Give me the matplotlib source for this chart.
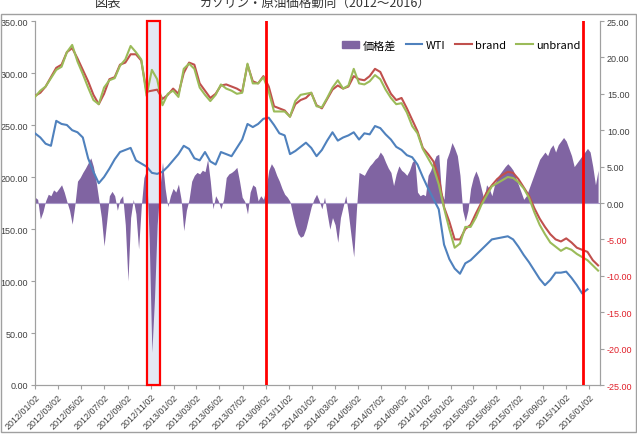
import matplotlib
matplotlib.use("Agg")
import matplotlib.pyplot as plt
import matplotlib.dates as mdates
from matplotlib.patches import Rectangle
import numpy as np
import pandas as pd

plt.rcParams['font.family'] = ['Noto Sans CJK JP', 'DejaVu Sans']

# ---------------- data ----------------
start_date = "2012-01-02"
# biweekly series (left axis)
brand = [278, 281, 287, 296, 305, 308, 320, 324, 314, 303, 292, 279, 270, 280, 294, 296, 308, 310, 318, 318,
         312, 282, 283, 284, 275, 279, 285, 280, 300, 310, 308, 290, 283, 276, 280, 288, 289, 287, 285, 282,
         308, 292, 290, 297, 287, 268, 266, 264, 258, 270, 274, 276, 281, 269, 266, 275, 284, 288, 285, 287,
         297, 294, 293, 297, 304, 301, 290, 280, 274, 276, 266, 255, 244, 228, 222, 215, 200, 171, 157, 140,
         140, 150, 154, 165, 175, 185, 192, 198, 202, 205, 204, 198, 190, 182, 170, 160, 152, 145, 140, 138,
         141, 137, 132, 130, 128, 120, 115]
unbrand = [277, 283, 287, 295, 303, 306, 320, 327, 311, 299, 286, 274, 270, 286, 293, 295, 307, 313, 326, 320,
           313, 278, 303, 294, 269, 280, 283, 277, 304, 309, 304, 286, 279, 273, 279, 289, 285, 283, 280, 281,
           309, 290, 290, 296, 282, 263, 263, 263, 258, 273, 279, 280, 281, 268, 267, 276, 286, 293, 285, 288,
           304, 290, 289, 292, 298, 294, 284, 276, 270, 271, 262, 249, 242, 227, 218, 209, 193, 170, 150, 132,
           136, 152, 152, 161, 173, 182, 191, 194, 197, 200, 199, 195, 189, 180, 166, 154, 145, 137, 133, 129,
           132, 130, 126, 123, 120, 115, 110]
wti = [242, 238, 232, 230, 254, 251, 250, 245, 243, 238, 218, 205, 194, 200, 208, 217, 224, 226, 228, 216,
       213, 210, 204, 203, 205, 210, 216, 222, 230, 227, 218, 216, 224, 215, 212, 224, 222, 220, 228, 236,
       251, 248, 251, 256, 257, 250, 242, 240, 222, 225, 229, 233, 228, 220, 226, 235, 243, 235, 238, 240,
       243, 236, 242, 241, 249, 247, 241, 236, 229, 226, 221, 219, 212, 200, 189, 179, 169, 135, 121, 112,
       107, 117, 120, 125, 130, 135, 140, 141, 142, 143, 140, 133, 125, 118, 110, 102, 96, 101, 108, 108,
       109, 103, 96, 88, 92]
# weekly price gap (right axis)
gap = [0.8, 0.5, -2.2, -1.2, 0.3, 1.2, 1.0, 1.8, 1.5, 2.0, 2.5, 1.5, 0.2, -1.0, -2.9, -0.3, 3.0, 3.5, 4.2, 4.8,
       5.5, 6.2, 5.0, 3.0, 0.5, -2.0, -5.9, -2.5, 1.0, 1.6, 1.0, -1.0, 0.5, 1.0, -3.0, -10.7, -2.0, 0.5, -1.5, -6.3,
       -0.5, 3.5, 4.5, -5.0, -20.5, -13.0, -3.0, 2.0, 5.6, 2.0, -0.5, 1.0, 2.0, 1.5, 2.6, 0.5, -3.8, -1.0, 0.5, 3.0,
       3.8, 4.2, 4.0, 4.5, 4.3, 6.0, 3.0, -0.8, 1.0, 0.3, -0.8, 0.5, 3.5, 4.0, 4.2, 4.5, 4.9, 3.0, 0.8, 0.2,
       -1.5, 1.5, 2.5, 2.2, 0.3, 1.0, 0.5, 2.0, 4.5, 5.4, 4.8, 3.8, 3.0, 2.0, 1.2, 0.8, 0.2, -1.5, -3.0, -4.2,
       -4.7, -4.5, -3.5, -2.0, -0.5, 0.5, 1.2, 0.3, -0.8, 0.8, -1.5, -3.6, -2.0, -3.0, -5.4, -2.0, -0.5, 1.0, -1.5, -4.5,
       -7.4, -1.0, 4.2, 4.0, 3.8, 4.5, 5.1, 5.5, 6.0, 6.3, 7.0, 6.5, 5.6, 4.8, 4.2, 2.4, 4.0, 5.1, 4.5, 4.2,
       3.8, 4.5, 5.6, 6.0, 1.5, 1.0, 1.2, 1.0, 3.8, 4.5, 5.6, 6.5, 6.7, 1.5, 0.5, 6.0, 7.0, 8.3, 7.5, 6.5,
       3.8, -1.0, -2.5, -1.0, 2.0, 3.5, 4.4, 3.5, 2.0, 0.5, 2.5, 2.0, 1.0, 2.5, 3.5, 4.0, 4.5, 5.0, 5.4, 5.0,
       4.5, 3.5, 2.5, 1.5, 0.5, 1.0, 2.0, 3.0, 4.0, 5.0, 6.0, 6.5, 7.0, 6.5, 7.5, 8.0, 7.0, 8.0, 8.5, 9.0,
       8.5, 7.5, 6.5, 5.0, 5.5, 6.0, 6.5, 7.0, 7.5, 7.0, 5.0, 2.5, 4.5]

tick_labels = ["2012/01/02", "2012/03/02", "2012/05/02", "2012/07/02", "2012/09/02", "2012/11/02",
               "2013/01/02", "2013/03/02", "2013/05/02", "2013/07/02", "2013/09/02", "2013/11/02",
               "2014/01/02", "2014/03/02", "2014/05/02", "2014/07/02", "2014/09/02", "2014/11/02",
               "2015/01/02", "2015/03/02", "2015/05/02", "2015/07/02", "2015/09/02", "2015/11/02",
               "2016/01/02"]
marker_lines = ["2013-09-02", "2015-12-17"]
highlight = ("2012-10-22", "2012-11-26")
legend_labels = ["価格差", "WTI", "brand", "unbrand"]
title_left = "図表"
title_right = "ガソリン・原油価格動向（2012～2016）"

# ---------------- plot ----------------
d2 = pd.date_range(start_date, periods=len(brand), freq="14D")
d_wti = d2[:len(wti)]
d1 = pd.date_range(start_date, periods=len(gap), freq="7D")

c_gap = "#8064A2"
c_wti = "#4F81BD"
c_brand = "#C0504D"
c_unbrand = "#9BBB59"
tick_font = "Liberation Sans"

fig = plt.figure(figsize=(6.37, 4.39), dpi=100)
ax = fig.add_axes([35/637, 1-386/439, 565/637, 364/439])
ax2 = ax.twinx()
ax.set_zorder(ax2.get_zorder() + 1)
ax.patch.set_visible(False)

# highlighted span fill (behind area)
h0, h1 = pd.Timestamp(highlight[0]), pd.Timestamp(highlight[1])
ax2.axvspan(h0, h1, facecolor="#E4E8F4", edgecolor="none", zorder=0)

gap_arr = np.array(gap)
ax2.fill_between(d1, 0, gap_arr, color=c_gap, linewidth=0, zorder=2)
ax2.axhline(0, color="#A898C8", lw=0.8, zorder=2)
ax2.set_ylim(-25, 25)
rt = np.arange(-25, 26, 5)
ax2.set_yticks(rt)
ax2.set_yticklabels([f"{v:.2f}" for v in rt], fontfamily=tick_font)

ax.plot(d_wti, wti, color=c_wti, lw=1.5, zorder=3)
ax.plot(d2, brand, color=c_brand, lw=1.5, zorder=3)
ax.plot(d2, unbrand, color=c_unbrand, lw=1.5, zorder=4)

ax.set_ylim(0, 350)
lt = np.arange(0, 351, 50)
ax.set_yticks(lt)
ax.set_yticklabels([f"{v:.2f}" for v in lt], fontfamily=tick_font)

ax.set_xlim(pd.Timestamp(start_date), pd.Timestamp("2016-01-30"))
ticks = [pd.Timestamp(t.replace("/", "-")) for t in tick_labels]
ax.set_xticks(ticks)
ax.set_xticklabels(tick_labels, rotation=45, ha="right", rotation_mode="anchor", fontfamily=tick_font)

for m in marker_lines:
    ax.axvline(pd.Timestamp(m), color="#FF0000", lw=2, zorder=6)
ax.add_patch(Rectangle((mdates.date2num(h0), 0), mdates.date2num(h1) - mdates.date2num(h0), 350,
                       facecolor="none", edgecolor="#FF0000", lw=1.6, zorder=6, clip_on=False))

for a in (ax, ax2):
    a.spines["top"].set_visible(False)
    for s in ("left", "right", "bottom"):
        a.spines[s].set_color("#A0A0A0")
    a.tick_params(labelsize=6.5, colors="#A0A0A0", labelcolor="#404040", length=3, width=0.8, pad=2)
for lab, v in zip(ax2.get_yticklabels(), rt):
    lab.set_color("#E0202A" if v < 0 else "#404040")

# legend
handles = [Rectangle((0, 0), 1, 1, color=c_gap),
           plt.Line2D([], [], color=c_wti, lw=1.5),
           plt.Line2D([], [], color=c_brand, lw=1.5),
           plt.Line2D([], [], color=c_unbrand, lw=1.5)]
ax.legend(handles, legend_labels, loc="center", bbox_to_anchor=(0.755, 0.934), ncol=4, frameon=False,
          fontsize=8, handlelength=1.5, handletextpad=0.3, columnspacing=0.9)

# chart frame and (clipped at top, as in the source) title
fig.patches.append(Rectangle((0.001, 0.014), 0.997, 1 - 15/439 - 0.014, transform=fig.transFigure,
                             fill=False, edgecolor="#A0A0A0", lw=1))
fig.text(95/637, 1 - 7/439, title_left, ha="left", va="baseline", fontsize=9.5, color="#333333")
fig.text(200/637, 1 - 7/439, title_right, ha="left", va="baseline", fontsize=9, color="#333333")

fig.savefig("out.png", dpi=100)
